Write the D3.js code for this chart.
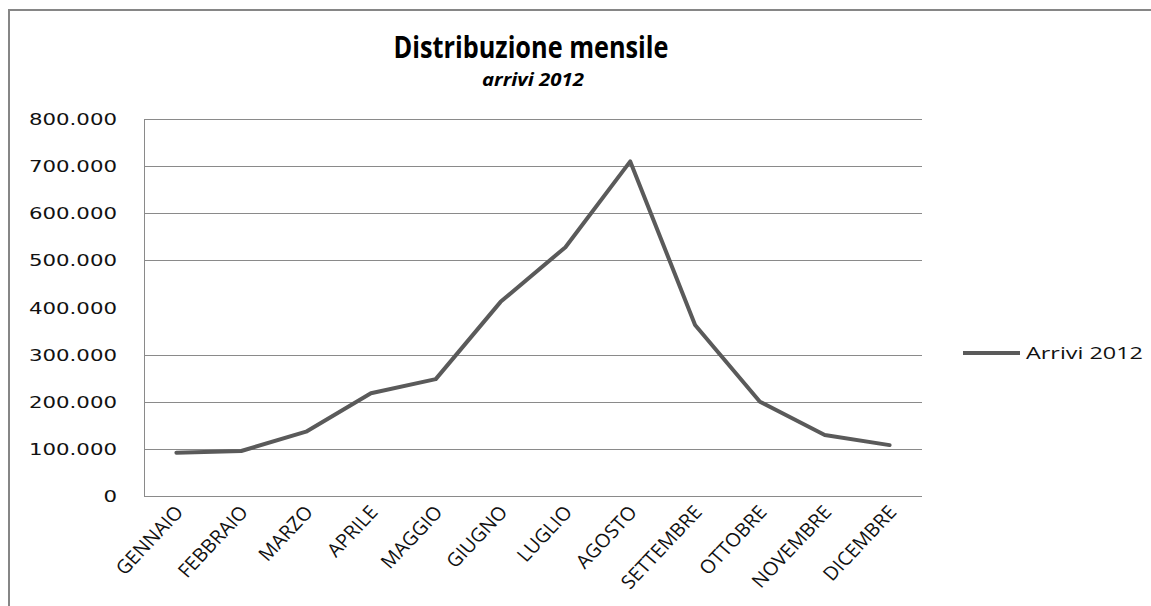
<!DOCTYPE html>
<html>
<head>
<meta charset="utf-8">
<script src="https://cdn.jsdelivr.net/npm/d3@7"></script>
<style>
  body { margin: 0; background: #fff; }
  svg { display: block; }
</style>
</head>
<body>
<div id="chart"></div>
<script>
// data
var months = ["GENNAIO", "FEBBRAIO", "MARZO", "APRILE", "MAGGIO", "GIUGNO",
              "LUGLIO", "AGOSTO", "SETTEMBRE", "OTTOBRE", "NOVEMBRE", "DICEMBRE"];
var arrivi = [92000, 95500, 136500, 218000, 248000, 412000,
              528000, 710000, 363000, 200000, 129500, 108000];
var yTicks = [0, 100000, 200000, 300000, 400000, 500000, 600000, 700000, 800000];
var seriesName = "Arrivi 2012";

var width = 1151, height = 606;
var plot = {left: 144, right: 922, top: 119, bottom: 496};

var svg = d3.select("#chart").append("svg")
  .attr("width", width)
  .attr("height", height);

// chart border (only left & top fall inside the picture)
svg.append("path")
  .attr("d", "M9,606 V10 H1151")
  .attr("fill", "none")
  .attr("stroke", "#868686")
  .attr("stroke-width", 2);

var x = d3.scaleBand()
  .domain(months)
  .range([plot.left, plot.right]);

var y = d3.scaleLinear()
  .domain([0, 800000])
  .range([plot.bottom, plot.top]);

var fmt = function(d) { return d3.format(",")(d).replace(/,/g, "."); };

// gridlines (the 400.000 one is not drawn in the original)
svg.append("g")
  .selectAll("line")
  .data(yTicks.filter(function(d) { return d != 0 && d != 400000; }))
  .enter().append("line")
  .attr("x1", plot.left)
  .attr("x2", plot.right)
  .attr("y1", function(d) { return Math.round(y(d)) + 0.5; })
  .attr("y2", function(d) { return Math.round(y(d)) + 0.5; })
  .attr("stroke", "#8a8a8a")
  .attr("stroke-width", 1);

// axes lines
svg.append("line")
  .attr("x1", plot.left + 0.5).attr("x2", plot.left + 0.5)
  .attr("y1", plot.top).attr("y2", plot.bottom)
  .attr("stroke", "#8a8a8a");
svg.append("line")
  .attr("x1", plot.left).attr("x2", plot.right)
  .attr("y1", Math.round(y(0)) + 0.5).attr("y2", Math.round(y(0)) + 0.5)
  .attr("stroke", "#8a8a8a");

// y labels
svg.append("g")
  .selectAll("text")
  .data(yTicks)
  .enter().append("text")
  .attr("transform", function(d) { return "translate(117," + (y(d) + 6) + ") scale(1.42,1)"; })
  .attr("text-anchor", "end")
  .attr("font-family", "DejaVu Sans")
  .attr("font-size", 15)
  .attr("fill", "#111")
  .text(fmt);

// x labels
svg.append("g")
  .selectAll("text")
  .data(months)
  .enter().append("text")
  .attr("transform", function(d) {
    return "translate(" + (x(d) + x.bandwidth() / 2 + 8) + ",513) scale(1.05,1) rotate(-48)";
  })
  .attr("text-anchor", "end")
  .attr("font-family", "Open Sans")
  .attr("font-size", 19)
  .attr("fill", "#111")
  .text(function(d) { return d; });

// series line
var line = d3.line()
  .x(function(d, i) { return x(months[i]) + x.bandwidth() / 2; })
  .y(function(d) { return y(d); });

svg.append("path")
  .datum(arrivi)
  .attr("d", line)
  .attr("fill", "none")
  .attr("stroke", "#5a5a5a")
  .attr("stroke-width", 4)
  .attr("stroke-linejoin", "round")
  .attr("stroke-linecap", "round");

// title
svg.append("text")
  .attr("x", 531)
  .attr("y", 58)
  .attr("text-anchor", "middle")
  .attr("font-family", "Open Sans")
  .attr("font-weight", "bold")
  .attr("font-size", 30)
  .attr("textLength", 275)
  .attr("lengthAdjust", "spacingAndGlyphs")
  .attr("fill", "#000")
  .text("Distribuzione mensile");

svg.append("text")
  .attr("x", 533)
  .attr("y", 86)
  .attr("text-anchor", "middle")
  .attr("font-family", "Open Sans")
  .attr("font-weight", "bold")
  .attr("font-style", "italic")
  .attr("font-size", 18)
  .attr("textLength", 102)
  .attr("lengthAdjust", "spacingAndGlyphs")
  .attr("fill", "#000")
  .text("arrivi 2012");

// legend
var legend = svg.append("g");
legend.append("line")
  .attr("x1", 963).attr("x2", 1020)
  .attr("y1", 353).attr("y2", 353)
  .attr("stroke", "#5a5a5a")
  .attr("stroke-width", 4);
legend.append("text")
  .attr("x", 1026)
  .attr("y", 359)
  .attr("font-family", "Open Sans")
  .attr("font-size", 17)
  .attr("textLength", 117)
  .attr("lengthAdjust", "spacingAndGlyphs")
  .attr("fill", "#111")
  .text(seriesName);
</script>
</body>
</html>
